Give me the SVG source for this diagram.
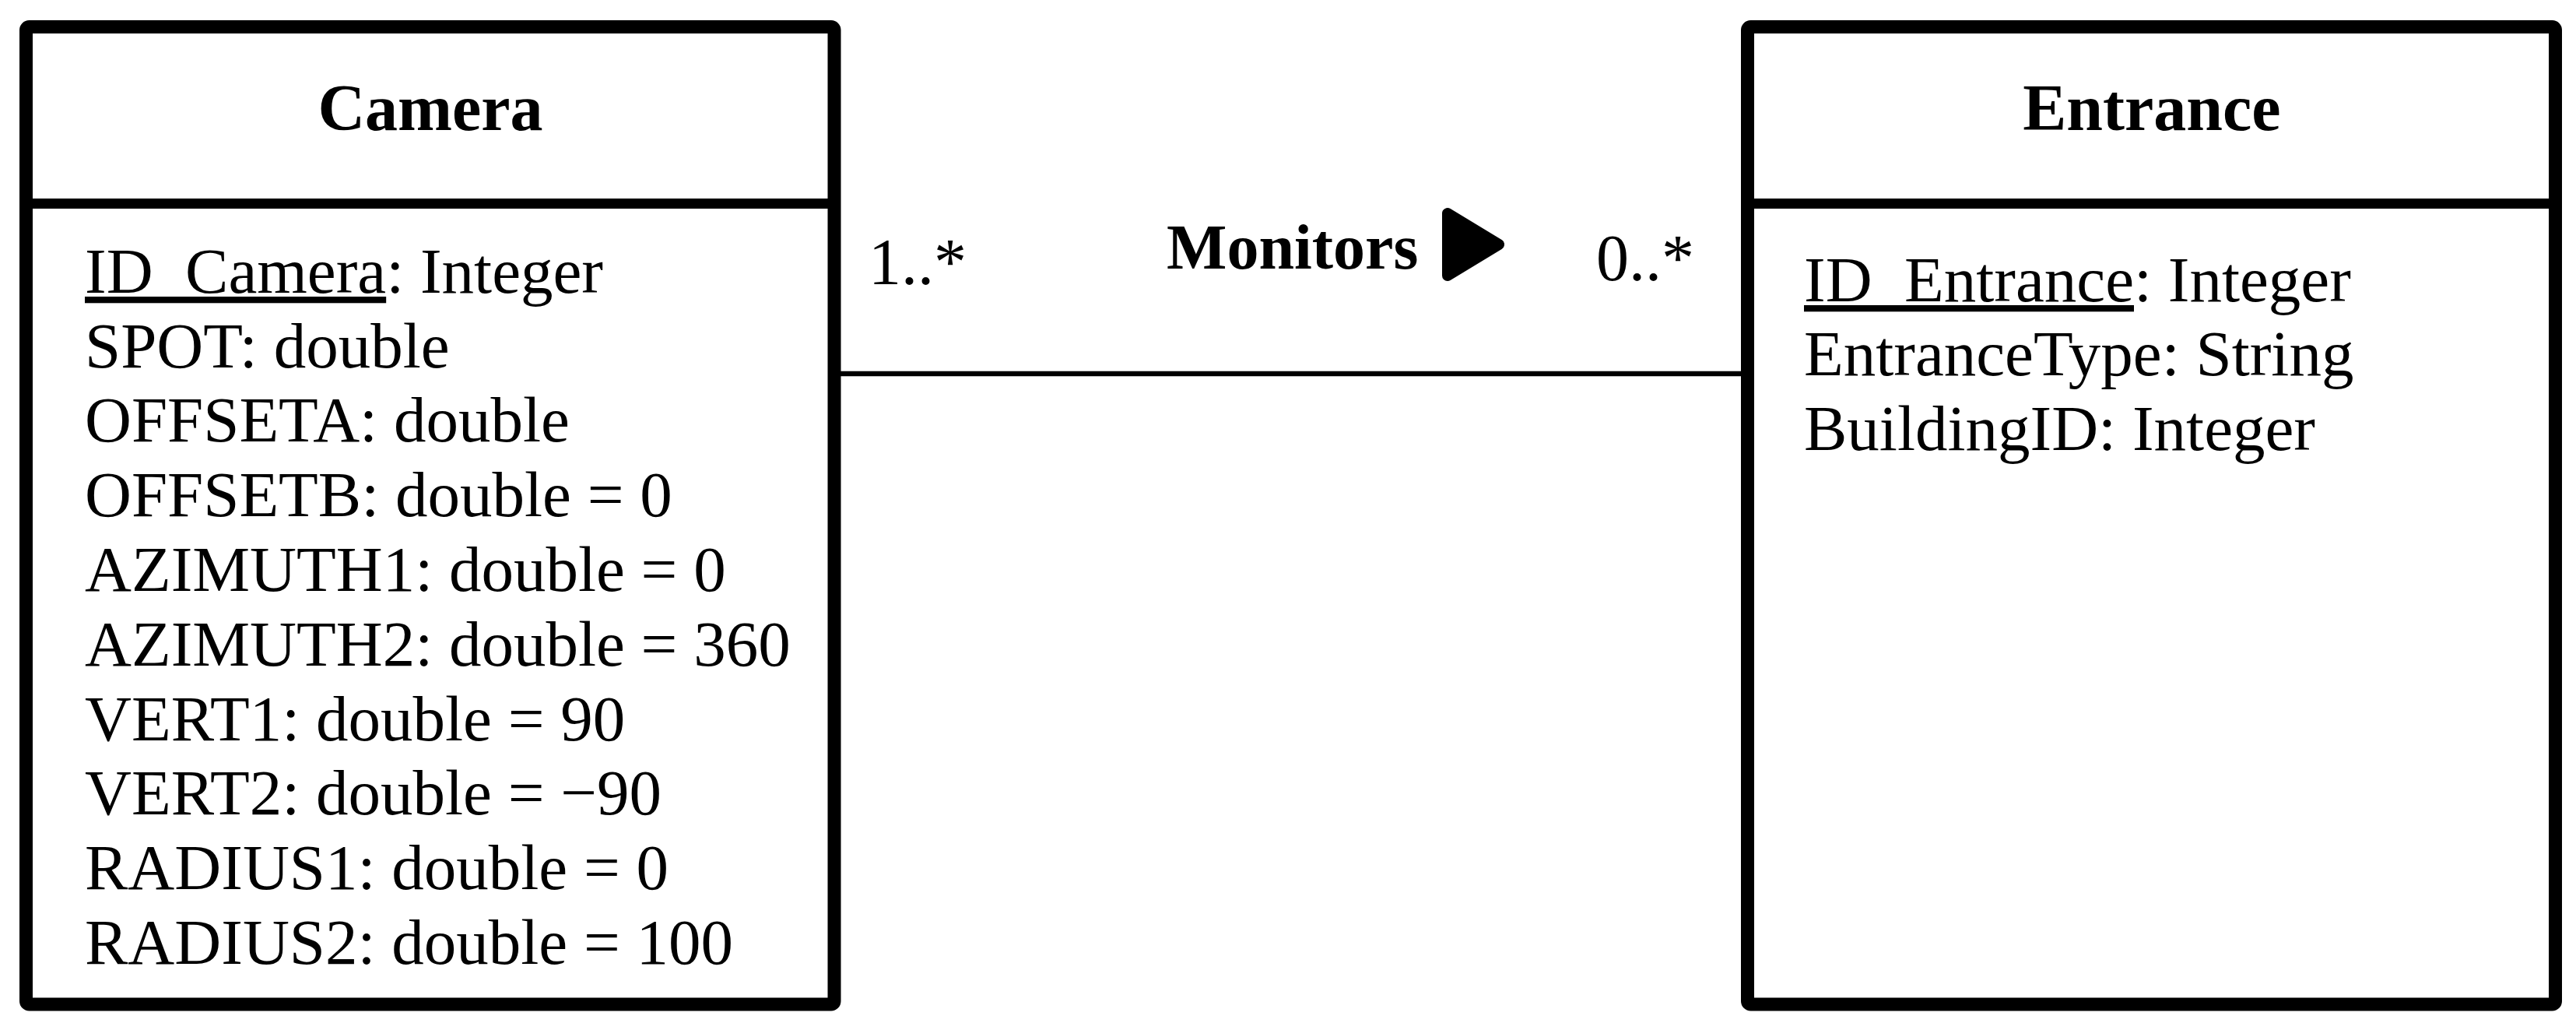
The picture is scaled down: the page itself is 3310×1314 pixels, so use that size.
<svg xmlns="http://www.w3.org/2000/svg" width="3310" height="1314" viewBox="0 0 3310 1314">
<style>
.box{fill:#fff;stroke:#000;stroke-width:17;}
.div{stroke:#000;stroke-width:13;}
.title{font-family:"Liberation Serif","Times New Roman",serif;font-weight:bold;font-size:84px;text-anchor:middle;fill:#000;}
.attr{font-family:"Liberation Serif","Times New Roman",serif;font-size:83px;fill:#000;}
.lbl{font-family:"Liberation Serif","Times New Roman",serif;font-size:84px;fill:#000;}
.assoc{font-family:"Liberation Serif","Times New Roman",serif;font-weight:bold;font-size:82px;fill:#000;}
.conn{stroke:#000;stroke-width:6.5;fill:none;}
</style>
<rect width="3310" height="1314" fill="#fff"/>
<g id="connectors">
<line class="conn" x1="1080" y1="480" x2="2238" y2="480"/>
<text class="lbl" x="1116" y="365">1..*</text>
<text class="lbl" x="2051" y="360">0..*</text>
<text class="assoc" x="1499" y="345">Monitors</text>
<polygon points="1860,274 1860,354 1926,314" fill="#000" stroke="#000" stroke-width="14" stroke-linejoin="round"/>
</g>
<g id="camera">
<rect class="box" x="33.5" y="34.5" width="1038.5" height="1255.5" rx="4"/>
<line class="div" x1="33.5" y1="261.5" x2="1072" y2="261.5"/>
<text class="title" x="553" y="167">Camera</text>
<text class="attr" x="109" y="376"><tspan text-decoration="underline">ID_Camera</tspan>: Integer</text>
<text class="attr" x="109" y="472">SPOT: double</text>
<text class="attr" x="109" y="567">OFFSETA: double</text>
<text class="attr" x="109" y="663">OFFSETB: double = 0</text>
<text class="attr" x="109" y="759">AZIMUTH1: double = 0</text>
<text class="attr" x="109" y="855">AZIMUTH2: double = 360</text>
<text class="attr" x="109" y="951">VERT1: double = 90</text>
<text class="attr" x="109" y="1046">VERT2: double = −90</text>
<text class="attr" x="109" y="1142">RADIUS1: double = 0</text>
<text class="attr" x="109" y="1238">RADIUS2: double = 100</text>
</g>
<g id="entrance">
<rect class="box" x="2245.5" y="34.5" width="1038" height="1255.5" rx="4"/>
<line class="div" x1="2245.5" y1="261.5" x2="3283.5" y2="261.5"/>
<text class="title" x="2765" y="167">Entrance</text>
<text class="attr" x="2318" y="387"><tspan text-decoration="underline">ID_Entrance</tspan>: Integer</text>
<text class="attr" x="2318" y="482">EntranceType: String</text>
<text class="attr" x="2318" y="578">BuildingID: Integer</text>
</g>
</svg>
